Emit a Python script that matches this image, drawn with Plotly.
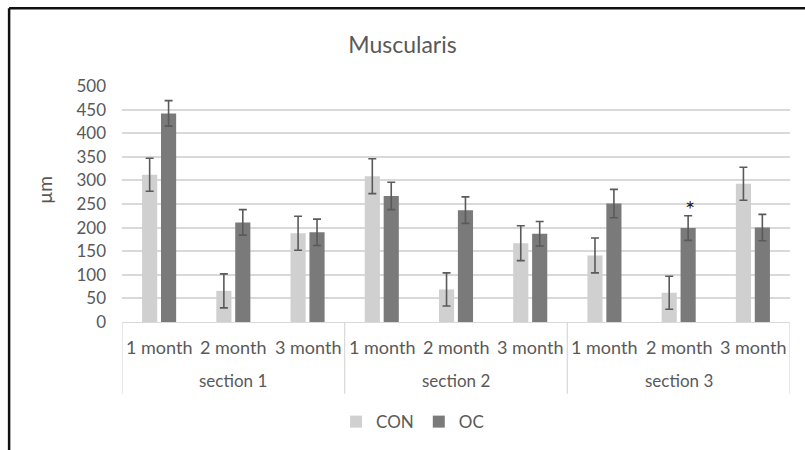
import plotly.graph_objects as go

# Data: muscularis thickness (µm) by section and time point
section_names = ["section 1", "section 2", "section 3"]
month_names = ["1 month", "2 month", "3 month"]
sections = [s for s in section_names for _ in month_names]
months = month_names * len(section_names)

con = [312, 66, 188, 309, 69, 167, 141, 62, 293]
con_err = [35, 36, 36, 37, 35, 37, 37, 35, 35]
oc = [442, 211, 190, 267, 237, 187, 251, 199, 200]
oc_err = [27, 27, 28, 29, 28, 26, 30, 26, 28]

y_ticks = [0, 50, 100, 150, 200, 250, 300, 350, 400, 450, 500]

FONT = "Lato"
TXT = "#595959"
ERR = "#5a5a5a"
AXIS = "#d9d9d9"

fig = go.Figure()
fig.add_trace(go.Bar(
    name="CON", x=[sections, months], y=con,
    marker=dict(color="#d0d0d0", line=dict(width=0)),
    error_y=dict(type="data", array=con_err, color=ERR, thickness=1.6, width=4),
))
fig.add_trace(go.Bar(
    name="OC", x=[sections, months], y=oc,
    marker=dict(color="#7a7a7a", line=dict(width=0)),
    error_y=dict(type="data", array=oc_err, color=ERR, thickness=1.6, width=4),
))

# significance marker above OC, section 3 / 2 month
fig.add_annotation(
    x=7, y=oc[7] + oc_err[7] + 22, xref="x", yref="y",
    text="*", showarrow=False, xshift=11, yshift=-3,
    font=dict(family=FONT, size=24, color="#222222"),
)

# two-level category labels and group dividers
n = len(months)
for i, m in enumerate(months):
    fig.add_annotation(x=i, y=-0.105, xref="x", yref="paper", text=m,
                       showarrow=False, yanchor="middle",
                       font=dict(family=FONT, size=18, color=TXT))
for j, s in enumerate(section_names):
    fig.add_annotation(x=j * 3 + 1, y=-0.249, xref="x", yref="paper", text=s,
                       showarrow=False, yanchor="middle",
                       font=dict(family=FONT, size=17, color=TXT))
for k in range(len(section_names) + 1):
    xb = k * 3 - 0.5
    fig.add_shape(type="line", xref="x", yref="paper", x0=xb, x1=xb,
                  y0=0, y1=-0.304, line=dict(color=AXIS, width=1.2))

# y-axis title
fig.add_annotation(
    x=-0.115, y=0.56, xref="paper", yref="paper", text="µm", xanchor="center",
    textangle=-90, showarrow=False, font=dict(family=FONT, size=19, color=TXT),
)

# outer frame (left and top edges)
fig.add_shape(type="line", xref="paper", yref="paper",
              x0=-0.169, x1=1.05, y0=1.329, y1=1.329,
              line=dict(color="#111111", width=2.5))
fig.add_shape(type="line", xref="paper", yref="paper",
              x0=-0.169, x1=-0.169, y0=1.329, y1=-0.6,
              line=dict(color="#111111", width=2.5))

fig.update_layout(
    width=805, height=450,
    margin=dict(l=122, r=15, t=86, b=127),
    paper_bgcolor="white", plot_bgcolor="white",
    font=dict(family=FONT, color=TXT, size=17),
    title=dict(text="Muscularis", x=0.5, xanchor="center", y=0.9, yanchor="middle",
               font=dict(family=FONT, size=23, color=TXT)),
    barmode="group", bargap=0.49, bargroupgap=0.2,
    legend=dict(orientation="h", x=0.435, xanchor="center", y=-0.418, yanchor="middle",
                font=dict(family=FONT, size=17, color=TXT), itemwidth=30,
                tracegroupgap=0),
    xaxis=dict(
        type="multicategory", showline=True, linecolor=AXIS, linewidth=1.2,
        showdividers=False, showticklabels=False, ticks="",
        range=[-0.5, n - 0.5],
    ),
    yaxis=dict(
        range=[0, 500], tickvals=y_ticks, showgrid=True, gridcolor=AXIS,
        gridwidth=1.6, zeroline=False, showline=False,
        tickfont=dict(family=FONT, size=17, color=TXT), ticklabelstandoff=15,
    ),
)

fig.write_html("out.html")
